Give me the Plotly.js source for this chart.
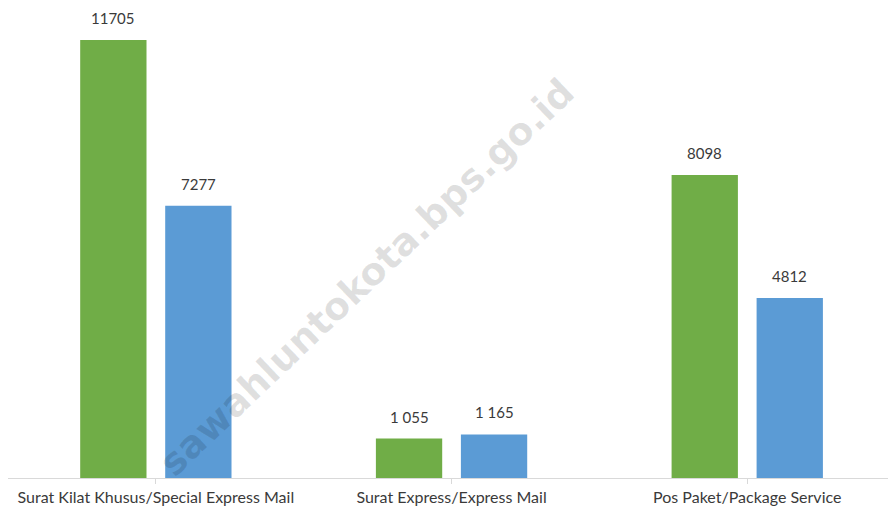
<!DOCTYPE html>
<html>
<head>
<meta charset="utf-8">
<script src="https://cdn.plot.ly/plotly-3.0.1.min.js"></script>
<style>html,body{margin:0;padding:0;background:#fff;}#chart{width:888px;height:508px;}</style>
</head>
<body>
<div id="chart"></div>
<script>
const categories = ["Surat Kilat Khusus/Special Express Mail", "Surat Express/Express Mail", "Pos Paket/Package Service"];
const seriesGreen = [11705, 1055, 8098];
const seriesBlue = [7277, 1165, 4812];
const labelsGreen = ["11705", "1 055", "8098"];
const labelsBlue = ["7277", "1 165", "4812"];
const watermark = "sawahluntokota.bps.go.id";

const idx = categories.map((c, i) => i);
const bargap = 0.425;
const off = (1 - bargap) / 4;
const font = "Lato, 'Open Sans', sans-serif";

const traces = [
  {type: "bar", x: idx, y: seriesGreen, marker: {color: "#70AD47"}, hoverinfo: "none", name: "g"},
  {type: "bar", x: idx, y: seriesBlue, marker: {color: "#5B9BD5"}, hoverinfo: "none", name: "b"}
];

const annotations = [];
idx.forEach(i => {
  annotations.push({x: i - off, y: seriesGreen[i], xref: "x", yref: "y", text: labelsGreen[i], showarrow: false, yanchor: "bottom", yshift: 11, font: {family: font, size: 15, color: "#3a3a3a"}});
  annotations.push({x: i + off, y: seriesBlue[i], xref: "x", yref: "y", text: labelsBlue[i], showarrow: false, yanchor: "bottom", yshift: 11, font: {family: font, size: 15, color: "#3a3a3a"}});
});
annotations.push({x: 0.408, y: 0.42, xref: "paper", yref: "paper", text: watermark, showarrow: false, textangle: -43.6,
  font: {family: "'DejaVu Sans', sans-serif", size: 38, weight: 700, color: "rgba(0,0,0,0.12)"}});

const layout = {
  width: 888, height: 508,
  margin: {l: 8, r: 0, t: 0, b: 30},
  paper_bgcolor: "#fff", plot_bgcolor: "#fff",
  showlegend: false,
  barmode: "group", bargap: bargap, bargroupgap: 0.22,
  xaxis: {
    range: [-0.5, 2.476], tickmode: "array", tickvals: idx, ticktext: categories,
    tickson: "boundaries", ticks: "outside", ticklen: 5, tickcolor: "#d9d9d9",
    showline: true, linecolor: "#d9d9d9", linewidth: 1, showgrid: false, zeroline: false,
    tickfont: {family: font, size: 16, color: "#3a3a3a"}, fixedrange: true
  },
  yaxis: {range: [0, 12774], visible: false, showgrid: false, zeroline: false, fixedrange: true},
  annotations: annotations,
  font: {family: font}
};

Plotly.newPlot("chart", traces, layout, {displayModeBar: false, staticPlot: true});
</script>
</body>
</html>
